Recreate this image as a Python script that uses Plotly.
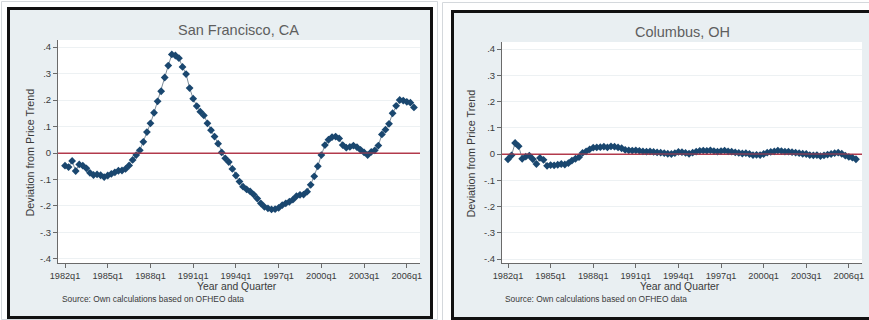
import plotly.graph_objects as go

# Quarterly periods covered by the series
years = list(range(1982, 2007))
quarters = [f"{y}q{q}" for y in years for q in (1, 2, 3, 4)][:99]

# Deviation from price trend, 1982q1 - 2006q3
sf_dev = [
    -0.048, -0.053, -0.030, -0.068, -0.043, -0.048, -0.058, -0.075, -0.083, -0.081,
    -0.084, -0.091, -0.085, -0.079, -0.073, -0.067, -0.066, -0.060, -0.047, -0.026,
    -0.008, 0.010, 0.042, 0.079, 0.112, 0.152, 0.195, 0.233, 0.285, 0.330,
    0.372, 0.368, 0.358, 0.325, 0.298, 0.245, 0.205, 0.177, 0.156, 0.142,
    0.112, 0.086, 0.062, 0.035, 0.002, -0.020, -0.034, -0.060, -0.085, -0.108,
    -0.127, -0.137, -0.145, -0.157, -0.172, -0.190, -0.203, -0.209, -0.213, -0.212,
    -0.207, -0.197, -0.190, -0.184, -0.176, -0.163, -0.158, -0.157, -0.146, -0.120,
    -0.088, -0.050, -0.008, 0.030, 0.050, 0.060, 0.062, 0.055, 0.030, 0.020,
    0.023, 0.028, 0.022, 0.012, 0.002, -0.008, 0.004, 0.010, 0.028, 0.070,
    0.088, 0.110, 0.150, 0.178, 0.200, 0.198, 0.193, 0.190, 0.172,
]
col_dev = [
    -0.020, -0.005, 0.042, 0.030, -0.018, -0.010, -0.006, -0.020, -0.038, -0.015,
    -0.022, -0.045, -0.042, -0.043, -0.041, -0.038, -0.040, -0.035, -0.025, -0.018,
    -0.012, 0.004, 0.010, 0.018, 0.024, 0.025, 0.026, 0.028, 0.025, 0.029,
    0.028, 0.025, 0.022, 0.016, 0.014, 0.013, 0.014, 0.012, 0.010, 0.009,
    0.010, 0.008, 0.006, 0.005, 0.003, 0.001, 0.000, 0.003, 0.008, 0.007,
    0.004, 0.001, 0.005, 0.009, 0.012, 0.013, 0.012, 0.014, 0.011, 0.009,
    0.011, 0.013, 0.010, 0.009, 0.006, 0.004, 0.002, 0.003, 0.000, -0.004,
    -0.003, -0.004, 0.000, 0.005, 0.008, 0.010, 0.013, 0.011, 0.009, 0.009,
    0.007, 0.005, 0.003, 0.001, 0.000, -0.004, -0.005, -0.004, -0.008, -0.005,
    -0.002, 0.000, 0.003, 0.005, 0.001, -0.006, -0.011, -0.014, -0.020,
]

x_ticks = ["1982q1", "1985q1", "1988q1", "1991q1", "1994q1",
           "1997q1", "2000q1", "2003q1", "2006q1"]
y_ticks = [0.4, 0.3, 0.2, 0.1, 0.0, -0.1, -0.2, -0.3, -0.4]
y_labels = [".4", ".3", ".2", ".1", "0", "-.1", "-.2", "-.3", "-.4"]

titles = ["San Francisco, CA", "Columbus, OH"]
x_title = "Year and Quarter"
y_title = "Deviation from Price Trend"
source = "Source: Own calculations based on OFHEO data"

W, H = 869, 320
FONT = "Liberation Sans, Arial, sans-serif"
NAVY = "#1a476f"
PANEL_BG = "#e9eff2"
AXIS = "#6a6a6a"
TEXT = "#3a3a3a"
ZERO_RED = "#b23b4c"

# quarter positions on a linear axis (0 = 1982q1)
x_pos = list(range(len(quarters)))
tick_pos = [quarters.index(t) for t in x_ticks]


def px(x):
    return x / W


def py(y):
    return 1 - y / H


fig = go.Figure()

panels = [
    # plot box (left, right, top, bottom) in pixels, panel frame, text anchors
    dict(box=(58, 420, 40, 263), yr=(-0.4152, 0.4265), xr=(-1.97, 99.7),
         frame=(8.5, 431.5, 8.5, 317.5), outer=(1.5, 437.5, 1.5, 319.5),
         title_y=30, ytitle_x=29, src_x=60),
    dict(box=(502, 862, 42, 263), yr=(-0.4152, 0.4267), xr=(-1.69, 99.7),
         frame=(452.5, 871, 11.5, 318.5), outer=(442.5, 875, 2.5, 322),
         title_y=32, ytitle_x=470, src_x=503),
]
series = [sf_dev, col_dev]

shapes = []
annotations = []
for k, (p, vals) in enumerate(zip(panels, series)):
    sfx = "" if k == 0 else str(k + 1)
    L, R, T, B = p["box"]
    fl, fr, ft, fb = p["frame"]
    ol, orr, ot, ob = p["outer"]

    # light outer frame, black panel frame with light blue-gray fill, white plot region
    shapes.append(dict(type="rect", xref="paper", yref="paper", layer="below",
                       x0=px(ol), x1=px(orr), y0=py(ob), y1=py(ot),
                       line=dict(color="#d4d8dc", width=1), fillcolor="white"))
    shapes.append(dict(type="rect", xref="paper", yref="paper", layer="below",
                       x0=px(fl), x1=px(fr), y0=py(fb), y1=py(ft),
                       line=dict(color="#111111", width=3), fillcolor=PANEL_BG))
    shapes.append(dict(type="rect", xref="paper", yref="paper", layer="below",
                       x0=px(L), x1=px(R), y0=py(B), y1=py(T),
                       line=dict(width=0), fillcolor="white"))
    # red reference line at zero across the plot width
    shapes.append(dict(type="line", xref="paper", yref=f"y{sfx}",
                       x0=px(L), x1=px(R), y0=0, y1=0, layer="above",
                       line=dict(color=ZERO_RED, width=1)))

    fig.add_trace(go.Scatter(
        x=x_pos, y=vals, mode="lines+markers", text=quarters,
        line=dict(color="#7d8c99", width=1),
        marker=dict(symbol="diamond", size=6, color=NAVY,
                    line=dict(width=0)),
        xaxis=f"x{sfx}", yaxis=f"y{sfx}", showlegend=False,
    ))

    fig.update_layout(**{
        f"xaxis{sfx}": dict(
            domain=[px(L), px(R)], range=list(p["xr"]),
            tickmode="array", tickvals=tick_pos, ticktext=x_ticks,
            showgrid=False, zeroline=False, showline=True, linecolor=AXIS,
            linewidth=1, ticks="outside", ticklen=4, tickcolor=AXIS,
            tickfont=dict(family=FONT, size=9.2, color=TEXT),
            anchor=f"y{sfx}", fixedrange=True, automargin=False,
        ),
        f"yaxis{sfx}": dict(
            domain=[py(B), py(T)], range=list(p["yr"]),
            tickmode="array", tickvals=y_ticks, ticktext=y_labels,
            showgrid=True, gridcolor="#edf1f3", gridwidth=1,
            zeroline=True, zerolinecolor=ZERO_RED, zerolinewidth=1,
            showline=True, linecolor=AXIS,
            linewidth=1, ticks="outside", ticklen=4, tickcolor=AXIS,
            tickfont=dict(family=FONT, size=9.5, color=TEXT),
            anchor=f"x{sfx}", fixedrange=True, automargin=False,
        ),
    })

    cx = (L + R) / 2
    annotations += [
        dict(text=titles[k], x=px(cx), y=py(p["title_y"]), xref="paper",
             yref="paper", showarrow=False, xanchor="center", yanchor="middle",
             font=dict(family=FONT, size=14.5, color="#5e5e5e")),
        dict(text=x_title, x=px(cx - 2), y=py(286), xref="paper", yref="paper",
             showarrow=False, xanchor="center", yanchor="middle",
             font=dict(family=FONT, size=10.4, color=TEXT)),
        dict(text=y_title, x=px(p["ytitle_x"]), y=py((T + B) / 2 + 1),
             xref="paper", yref="paper", showarrow=False, textangle=-90,
             xanchor="center", yanchor="middle",
             font=dict(family=FONT, size=10.8, color=TEXT)),
        dict(text=source, x=px(p["src_x"]), y=py(298.5), xref="paper",
             yref="paper", showarrow=False, xanchor="left", yanchor="middle",
             font=dict(family=FONT, size=8.4, color=TEXT)),
    ]

fig.update_layout(
    template="none",
    width=W, height=H, margin=dict(l=0, r=0, t=0, b=0, pad=0),
    paper_bgcolor="white", plot_bgcolor="rgba(0,0,0,0)",
    shapes=shapes, annotations=annotations, showlegend=False,
)

fig.write_html("out.html", config={"displayModeBar": False})
